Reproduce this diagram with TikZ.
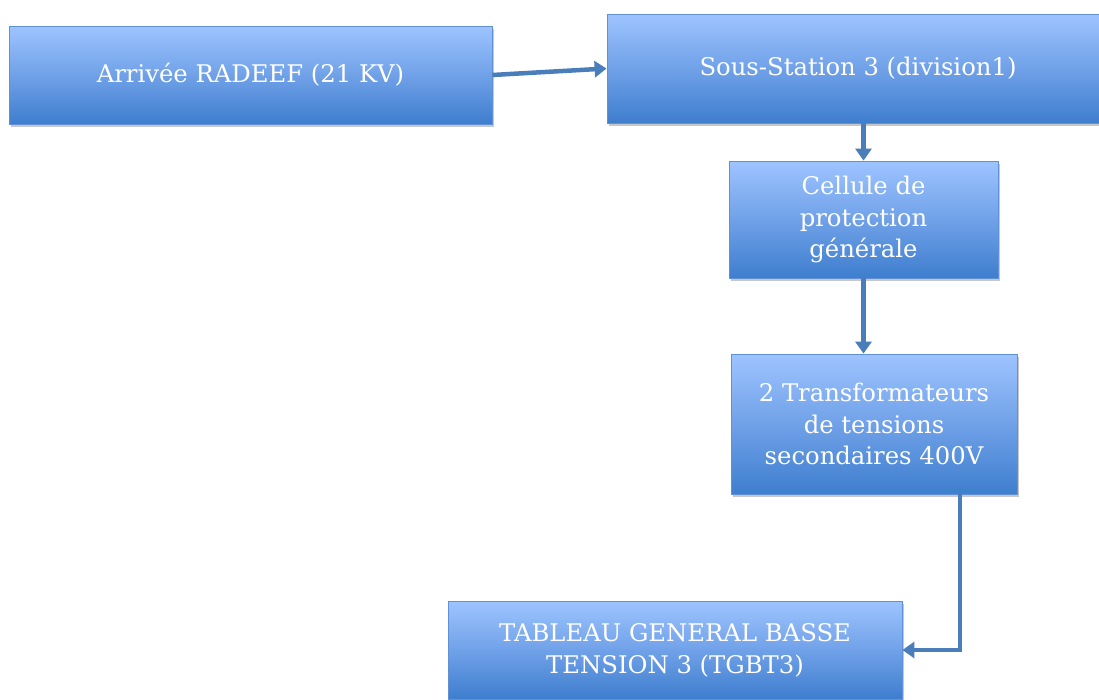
\documentclass[tikz,border=0pt]{standalone}
\usepackage{fontspec}
\setmainfont{DejaVu Serif}
\usetikzlibrary{arrows.meta,shadows,calc}
\definecolor{boxtop}{RGB}{158,196,255}
\definecolor{boxmid}{RGB}{112,161,232}
\definecolor{boxbot}{RGB}{62,126,206}
\definecolor{boxline}{RGB}{95,145,212}
\definecolor{arrowcol}{RGB}{74,126,187}
\tikzset{
  bluebox/.style={draw=boxline, line width=0.8pt, inner sep=0pt,
    top color=boxtop, bottom color=boxbot, middle color=boxmid,
    drop shadow={shadow xshift=2pt, shadow yshift=-3pt, fill=black, opacity=0.22},
    text=white, align=center, font=\fontsize{24.3}{31.8}\selectfont},
  flow/.style={draw=arrowcol, line width=4.5pt,
    -{Triangle[width=16pt,length=12pt]}}
}
\begin{document}
\begin{tikzpicture}[x=1pt,y=-1pt]
\clip (0,0) rectangle (1099,699);
\fill[white] (0,0) rectangle (1099,699);
\node[bluebox, minimum width=483pt, minimum height=98pt] (a) at (250.5,75) {Arrivée RADEEF (21 KV)};
\node[bluebox, minimum width=502pt, minimum height=109pt] (b) at (858,68.5) {Sous-Station 3 (division1)};
\node[bluebox, minimum width=269pt, minimum height=117pt] (c) at (863.5,219.5) {Cellule de\\protection\\générale};
\node[bluebox, minimum width=286pt, minimum height=140pt] (d) at (874,424) {2 Transformateurs\\de tensions\\secondaires 400V};
\node[bluebox, minimum width=454pt, minimum height=98pt] (e) at (675,650) {TABLEAU GENERAL BASSE\\TENSION 3 (TGBT3)};
\draw[flow] (a.east) -- (b.west);
\draw[flow] (c.north |- b.south) -- (c.north);
\draw[flow] (c.south) -- (d.north -| c.south);
\draw[flow] ([xshift=86pt]d.south) |- (e.east);
\end{tikzpicture}
\end{document}
